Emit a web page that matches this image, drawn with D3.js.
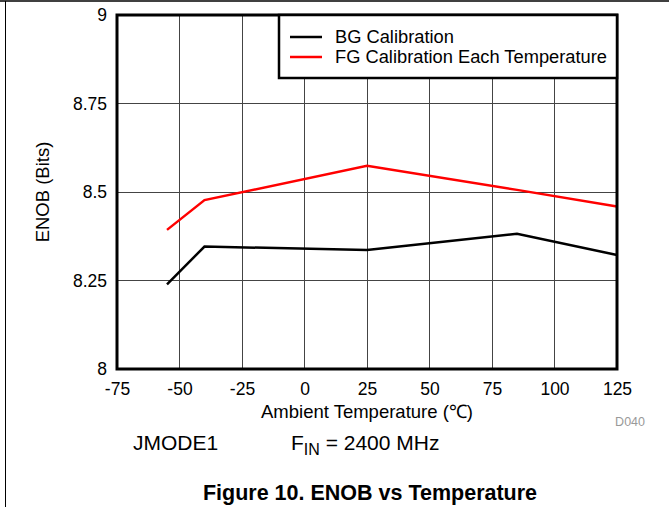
<!DOCTYPE html>
<html><head><meta charset="utf-8">
<script src="https://cdn.jsdelivr.net/npm/d3@7"></script>
<style>body{margin:0;background:#fff;}svg{display:block;font-family:"Liberation Sans",Arial,sans-serif;}</style>
</head><body>
<script>
const temps = [-55, -40, 25, 85, 125];
const bgValues = [8.239, 8.346, 8.336, 8.382, 8.322];
const fgValues = [8.393, 8.477, 8.574, 8.506, 8.459];
const xTicks = [-75, -50, -25, 0, 25, 50, 75, 100, 125];
const yTicks = [8, 8.25, 8.5, 8.75, 9];
const yTickLabels = ["8", "8.25", "8.5", "8.75", "9"];
const seriesNames = ["BG Calibration", "FG Calibration Each Temperature"];
const seriesColors = ["#000000", "#ff0000"];

const W = 669, H = 507;
const svg = d3.select("body").append("svg").attr("width", W).attr("height", H);
const L = 117, R = 617, T = 15, B = 369;
const x = d3.scaleLinear().domain([-75, 125]).range([L, R]);
const y = d3.scaleLinear().domain([8, 9]).range([B, T]);

// outer frame
svg.append("line").attr("x1",0).attr("x2",W).attr("y1",1).attr("y2",1).attr("stroke","#000").attr("stroke-width",1.5);
svg.append("line").attr("x1",5.5).attr("x2",5.5).attr("y1",1).attr("y2",H).attr("stroke","#000").attr("stroke-width",1);

// grid
svg.append("g").selectAll("line").data(xTicks).join("line")
  .attr("x1", d=>x(d)).attr("x2", d=>x(d)).attr("y1", T).attr("y2", B)
  .attr("stroke", "#444").attr("stroke-width", 1).attr("shape-rendering","crispEdges");
svg.append("g").selectAll("line").data(yTicks).join("line")
  .attr("y1", d=>y(d)).attr("y2", d=>y(d)).attr("x1", L).attr("x2", R)
  .attr("stroke", "#444").attr("stroke-width", 1).attr("shape-rendering","crispEdges");

// axes labels via d3 axes
const xAxis = svg.append("g").attr("transform", `translate(0,${B})`)
  .call(d3.axisBottom(x).tickValues(xTicks).tickSize(0).tickPadding(14).tickFormat(d => String(d)));
xAxis.select(".domain").remove();
xAxis.selectAll("text").attr("font-size", 17.5).attr("font-family", "Liberation Sans, Arial").attr("fill","#000");

const yAxis = svg.append("g").attr("transform", `translate(${L},0)`)
  .call(d3.axisLeft(y).tickValues(yTicks).tickSize(0).tickPadding(10).tickFormat((d,i)=>yTickLabels[i]));
yAxis.select(".domain").remove();
yAxis.selectAll("text").attr("font-size", 17.5).attr("font-family", "Liberation Sans, Arial").attr("fill","#000");

// lines
const line = d3.line().x((d,i)=>x(temps[i])).y(d=>y(d));
[bgValues, fgValues].forEach((vals, k) => {
  svg.append("path").datum(vals).attr("d", line).attr("fill","none")
    .attr("stroke", seriesColors[k]).attr("stroke-width", 2.5);
});

// plot frame
svg.append("rect").attr("x", L).attr("y", T).attr("width", R-L).attr("height", B-T)
  .attr("fill","none").attr("stroke","#000").attr("stroke-width", 3);

// legend
const lg = svg.append("g");
lg.append("rect").attr("x", 279).attr("y", T).attr("width", R-279).attr("height", 63)
  .attr("fill","#fff").attr("stroke","#000").attr("stroke-width", 2.5);
seriesNames.forEach((n, i) => {
  const yy = 37 + i*20;
  lg.append("line").attr("x1", 290).attr("x2", 322).attr("y1", yy).attr("y2", yy)
    .attr("stroke", seriesColors[i]).attr("stroke-width", 2.5);
  lg.append("text").attr("x", 335).attr("y", yy).attr("dy", "0.35em")
    .attr("font-size", 18.3).text(n);
});

// axis titles
svg.append("text").attr("x", (L+R)/2).attr("y", 418).attr("text-anchor","middle")
  .attr("font-size", 18.5).text("Ambient Temperature (℃)");
svg.append("text").attr("transform", `translate(49,${(T+B)/2}) rotate(-90)`)
  .attr("text-anchor","middle").attr("font-size", 18.5).text("ENOB (Bits)");
svg.append("text").attr("x", 645).attr("y", 426).attr("text-anchor","end")
  .attr("font-size", 12.5).attr("fill","#999").text("D040");

// conditions
svg.append("text").attr("x", 133).attr("y", 450).attr("font-size", 21).text("JMODE1");
const f = svg.append("text").attr("x", 291).attr("y", 450).attr("font-size", 21);
f.append("tspan").text("F");
f.append("tspan").attr("font-size", 16).attr("dy", 5).text("IN");
f.append("tspan").attr("dy", -5).text(" = 2400 MHz");

// caption
svg.append("text").attr("x", 370).attr("y", 500).attr("text-anchor","middle")
  .attr("font-size", 21.5).attr("font-weight","bold").text("Figure 10. ENOB vs Temperature");
</script>
</body></html>
